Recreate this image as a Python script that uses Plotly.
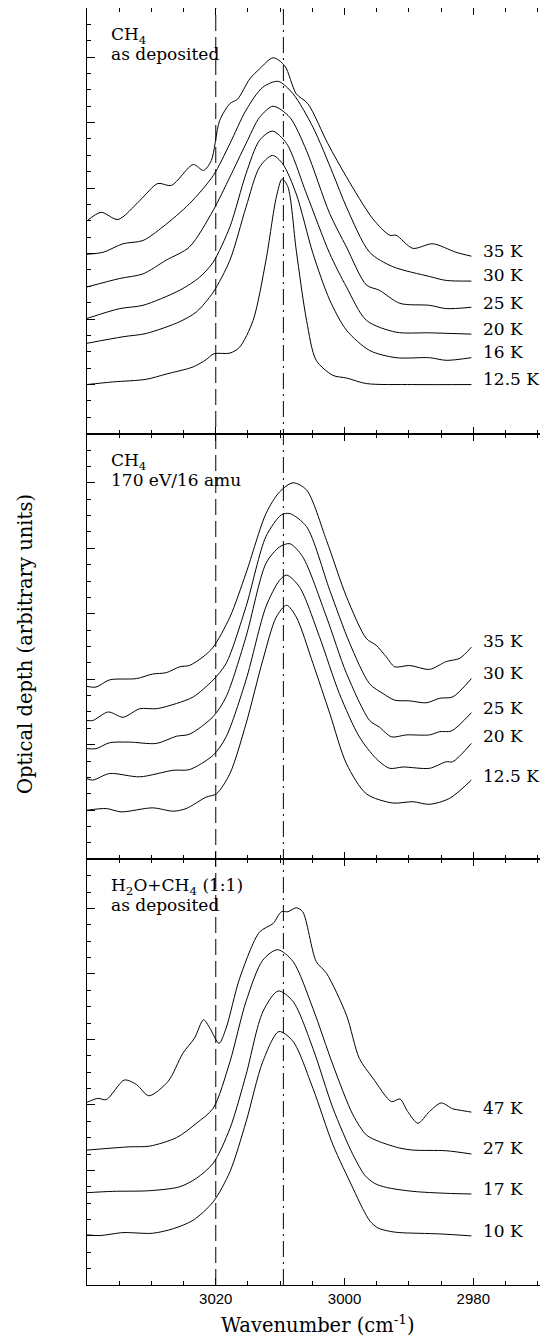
import plotly.graph_objects as go
from plotly.subplots import make_subplots

# ---------------- Panel 1: CH4 as deposited ----------------
a125_x = [3040, 3036, 3030.8, 3027.7, 3023.5, 3021.5, 3020.3, 3017.8, 3016.3, 3014.2, 3012.2, 3010.6, 3009.7, 3008.8, 3007.5, 3005.9, 3004.4, 3001.8, 2999.7, 2996.6, 2989.4, 2980.3]
a125_y = [0, 0.04, 0.08, 0.16, 0.27, 0.38, 0.47, 0.48, 0.57, 0.98, 1.9, 2.86, 3.14, 3.02, 2.05, 0.98, 0.37, 0.14, 0.10, 0.015, 0, 0]

a16_x = [3040, 3034.4, 3030.8, 3025.6, 3023, 3020.4, 3017.8, 3015.3, 3013.2, 3011.2, 3009.6, 3007.5, 3004.9, 3002.3, 2999.7, 2996.1, 2992, 2986.8, 2984.2, 2980.3]
a16_y = [0.63, 0.73, 0.78, 0.96, 1.11, 1.41, 1.90, 2.71, 3.32, 3.50, 3.37, 2.91, 2.0, 1.29, 0.83, 0.52, 0.41, 0.41, 0.37, 0.41]

a20_x = [3040, 3034.9, 3031.3, 3025.6, 3022.5, 3020.4, 3017.8, 3015.3, 3013.2, 3011.2, 3009, 3005.9, 3002.3, 2999.7, 2996.6, 2992, 2986.8, 2980.3]
a20_y = [1.01, 1.16, 1.21, 1.44, 1.64, 1.87, 2.41, 3.22, 3.73, 3.87, 3.68, 2.91, 2.0, 1.49, 0.98, 0.80, 0.79, 0.77]

a25_x = [3040, 3034.9, 3031.3, 3027.7, 3024.1, 3020.4, 3017.8, 3015.3, 3013.2, 3011.1, 3008.5, 3005.9, 3002.3, 2999.7, 2996.6, 2994.6, 2991.4, 2986.8, 2984.2, 2980.3]
a25_y = [1.49, 1.62, 1.69, 1.90, 2.10, 2.66, 3.17, 3.68, 4.08, 4.25, 4.08, 3.57, 2.61, 2.10, 1.52, 1.44, 1.24, 1.21, 1.16, 1.18]

a30_x = [3040, 3037.5, 3034.4, 3031.3, 3028.2, 3024.1, 3020.4, 3017.8, 3015.3, 3012.7, 3010.3, 3008, 3004.9, 3001.8, 2999.7, 2996.1, 2992.5, 2986.8, 2984.2, 2980.3]
a30_y = [1.99, 2.02, 2.15, 2.20, 2.41, 2.76, 3.19, 3.68, 4.19, 4.54, 4.63, 4.44, 3.93, 3.22, 2.71, 2.02, 1.80, 1.65, 1.59, 1.58]

a35_x = [3040, 3037.8, 3035.2, 3031.8, 3029, 3026.9, 3023.5, 3021.9, 3020.7, 3019.4, 3017.8, 3016.6, 3014.7, 3013.2, 3011.1, 3009.3, 3007.5, 3005.7, 3002.6, 2999.7, 2995.6, 2993, 2992, 2989.4, 2986.3, 2982.7, 2980.3]
a35_y = [2.50, 2.63, 2.52, 2.81, 3.07, 3.04, 3.36, 3.27, 3.42, 4.03, 4.29, 4.36, 4.67, 4.82, 4.99, 4.87, 4.44, 4.29, 3.68, 3.17, 2.53, 2.28, 2.28, 2.08, 2.15, 2.02, 1.96]

# ---------------- Panel 2: CH4 170 eV/16 amu ----------------
b125_x = [3040, 3037, 3034.7, 3029.8, 3026.6, 3024.6, 3021.5, 3019.9, 3017.8, 3015.3, 3012.7, 3010.6, 3009, 3007.5, 3004.9, 3002.3, 2999.7, 2996.6, 2992.5, 2989.4, 2986.8, 2983.7, 2980.3]
b125_y = [0, 0.025, -0.025, 0.036, -0.015, 0.025, 0.20, 0.25, 0.56, 1.32, 2.29, 2.95, 3.13, 2.95, 2.24, 1.48, 0.71, 0.25, 0.11, 0.13, 0.09, 0.18, 0.46]

b20_x = [3040, 3039.1, 3036.5, 3031.8, 3026.6, 3024.1, 3020.4, 3018.4, 3015.3, 3012.2, 3010.1, 3009, 3007, 3003.9, 3000.8, 2997.7, 2995.1, 2993, 2990.9, 2986.8, 2984.2, 2983.2, 2980.3]
b20_y = [0.48, 0.46, 0.56, 0.51, 0.61, 0.62, 0.84, 1.12, 1.99, 3.11, 3.51, 3.59, 3.41, 2.65, 1.78, 1.12, 0.79, 0.64, 0.66, 0.64, 0.74, 0.74, 1.02]

b25_x = [3040, 3038.6, 3036.5, 3033.4, 3029.2, 3026.1, 3024.1, 3020.4, 3018.4, 3015.3, 3012.2, 3010.1, 3008.5, 3006.5, 3002.8, 2999.7, 2996.1, 2994.6, 2992.7, 2990.4, 2986.8, 2985.2, 2983.4, 2980.3]
b25_y = [0.94, 0.94, 1.03, 1.04, 1.02, 1.13, 1.16, 1.43, 1.73, 2.65, 3.77, 4.02, 4.07, 3.87, 2.95, 2.09, 1.37, 1.27, 1.12, 1.15, 1.15, 1.20, 1.21, 1.49]

b30_x = [3040, 3039.1, 3036.7, 3034.4, 3031.8, 3029.2, 3026.1, 3023.5, 3020.4, 3018.4, 3015.3, 3012.2, 3009.8, 3008.5, 3005.9, 3002.3, 2999.2, 2996.1, 2994, 2992.2, 2989.9, 2987.3, 2985.2, 2983.2, 2980.3]
b30_y = [1.37, 1.37, 1.50, 1.42, 1.55, 1.55, 1.63, 1.73, 1.99, 2.24, 3.11, 4.18, 4.51, 4.53, 4.33, 3.36, 2.55, 1.93, 1.78, 1.68, 1.67, 1.64, 1.71, 1.73, 2.01]

b35_x = [3040, 3038.6, 3036.5, 3032.3, 3029.8, 3027.7, 3025.6, 3024.1, 3022, 3020.4, 3017.8, 3015.3, 3012.2, 3010.1, 3008, 3005.9, 3002.8, 2999.7, 2996.6, 2995.1, 2993.5, 2992.2, 2989.9, 2986.8, 2984.2, 2982.1, 2980.3]
b35_y = [1.89, 1.88, 1.99, 2.01, 2.08, 2.10, 2.19, 2.21, 2.34, 2.49, 2.95, 3.62, 4.53, 4.86, 5.0, 4.89, 4.12, 3.26, 2.62, 2.52, 2.34, 2.19, 2.21, 2.15, 2.27, 2.32, 2.49]

# ---------------- Panel 3: H2O+CH4 (1:1) as deposited ----------------
c10_x = [3040, 3038, 3034.4, 3029.8, 3026.6, 3023.5, 3020.4, 3017.8, 3015.3, 3012.7, 3010.2, 3008, 3004.9, 3001.8, 2998.7, 2997.2, 2996, 2994.8, 2993, 2991.4, 2985.2, 2980.3]
c10_y = [0.015, 0.005, 0.05, 0.04, 0.11, 0.24, 0.52, 0.98, 1.74, 2.66, 3.12, 2.97, 2.25, 1.39, 0.73, 0.42, 0.22, 0.12, 0.07, 0.05, 0.03, 0]

c17_x = [3040, 3036, 3030.3, 3025.6, 3023, 3020.4, 3017.8, 3015.3, 3012.7, 3010.3, 3008, 3004.9, 3001.8, 2998.7, 2996.8, 2995.3, 2993.5, 2989.4, 2984.2, 2980.3]
c17_y = [0.66, 0.68, 0.69, 0.75, 0.88, 1.11, 1.64, 2.46, 3.42, 3.74, 3.58, 2.86, 1.95, 1.24, 0.92, 0.80, 0.74, 0.68, 0.65, 0.64]

c27_x = [3040, 3033.4, 3030.3, 3026.1, 3023, 3020.4, 3017.8, 3015.3, 3012.7, 3010.4, 3008, 3004.9, 3001.8, 2998.7, 2996.6, 2994.6, 2991.4, 2989.4, 2984.2, 2980.3]
c27_y = [1.31, 1.36, 1.37, 1.50, 1.72, 1.95, 2.66, 3.58, 4.21, 4.37, 4.19, 3.47, 2.61, 1.85, 1.54, 1.44, 1.34, 1.31, 1.30, 1.25]

c47_x = [3040, 3038.3, 3037, 3034.2, 3032.3, 3030.4, 3027.4, 3025.1, 3023.3, 3021.9, 3020.9, 3019.5, 3018.4, 3016.3, 3013.2, 3011.1, 3009.8, 3008.8, 3007.5, 3006.5, 3004.4, 3002.8, 2999.7, 2997.7, 2995.6, 2992.7, 2991.4, 2990.2, 2988.6, 2986.8, 2985, 2983.2, 2982.1, 2980.3]
c47_y = [2.04, 2.10, 2.08, 2.38, 2.31, 2.14, 2.36, 2.79, 3.02, 3.30, 3.17, 2.94, 3.17, 3.93, 4.64, 4.77, 4.95, 4.95, 5.01, 4.95, 4.19, 4.01, 3.37, 2.71, 2.41, 2.05, 2.09, 1.90, 1.72, 1.90, 2.03, 1.94, 1.92, 1.89]

# curve labels (text, y position) per panel
labels_1 = ["35 K", "30 K", "25 K", "20 K", "16 K", "12.5 K"]
labels_1_y = [2.04, 1.67, 1.25, 0.85, 0.50, 0.08]
labels_2 = ["35 K", "30 K", "25 K", "20 K", "12.5 K"]
labels_2_y = [2.58, 2.10, 1.56, 1.13, 0.53]
labels_3 = ["47 K", "27 K", "17 K", "10 K"]
labels_3_y = [1.96, 1.34, 0.72, 0.08]
label_x = 2978.8

titles_1 = ["CH<sub>4</sub>", "as deposited"]
titles_2 = ["CH<sub>4</sub>", "170 eV/16 amu"]
titles_3 = ["H<sub>2</sub>O+CH<sub>4</sub> (1:1)", "as deposited"]
titles_y = [5.33, 5.05]
title_x = 3036.6

ref_dashed = 3020.0
ref_dashdot = 3009.5

x_major = [3020, 3000, 2980]
x_minor = [2970, 2975, 2985, 2990, 2995, 3005, 3010, 3015, 3025, 3030, 3035]

SERIF = "DejaVu Serif"
FS = 17

fig = make_subplots(rows=3, cols=1, shared_xaxes=True, vertical_spacing=0)

panels = [
    (1, [(a125_x, a125_y), (a16_x, a16_y), (a20_x, a20_y), (a25_x, a25_y), (a30_x, a30_y), (a35_x, a35_y)], labels_1, labels_1_y, titles_1),
    (2, [(b125_x, b125_y), (b20_x, b20_y), (b25_x, b25_y), (b30_x, b30_y), (b35_x, b35_y)], labels_2, labels_2_y, titles_2),
    (3, [(c10_x, c10_y), (c17_x, c17_y), (c27_x, c27_y), (c47_x, c47_y)], labels_3, labels_3_y, titles_3),
]

annotations = []
for row, curves, labs, labs_y, ttl in panels:
    for xs, ys in curves:
        fig.add_trace(go.Scatter(x=xs, y=ys, mode="lines", line=dict(color="black", width=1, shape="spline", smoothing=0.8),
                                 showlegend=False, hoverinfo="skip"), row=row, col=1)
    yref = "y" if row == 1 else f"y{row}"
    xref = "x" if row == 1 else f"x{row}"
    for t, yy in zip(labs, labs_y):
        annotations.append(dict(x=label_x, y=yy, xref=xref, yref=yref, text=t, showarrow=False,
                                xanchor="left", yanchor="middle", font=dict(family=SERIF, size=FS, color="black")))
    for t, yy in zip(ttl, titles_y):
        annotations.append(dict(x=title_x, y=yy, xref=xref, yref=yref, text=t, showarrow=False,
                                xanchor="left", yanchor="middle", font=dict(family=SERIF, size=FS, color="black")))

# figure is placed by the page at an 8px offset; plot area spans 79..540 x 0..1277 in figure coords
PLOT_W, PLOT_H = 461, 1277
annotations.append(dict(x=0.5, y=(PLOT_H - 1316) / PLOT_H, xref="paper", yref="paper", text="Wavenumber (cm<sup>-1</sup>)",
                        showarrow=False, xanchor="center", yanchor="middle",
                        font=dict(family=SERIF, size=19.5, color="black")))
annotations.append(dict(x=(17 - 79) / PLOT_W, y=(PLOT_H - 636) / PLOT_H, xref="paper", yref="paper",
                        text="Optical depth (arbitrary units)", textangle=-90, showarrow=False,
                        xanchor="center", yanchor="middle", font=dict(family=SERIF, size=19.5, color="black")))

shapes = [
    dict(type="line", xref="x", yref="paper", x0=ref_dashed, x1=ref_dashed, y0=0, y1=1,
         line=dict(color="black", width=1, dash="16px,6px")),
    dict(type="line", xref="x", yref="paper", x0=ref_dashdot, x1=ref_dashdot, y0=0, y1=1,
         line=dict(color="black", width=1, dash="16px,5px,2px,5px")),
]

for i in range(1, 4):
    fig.update_xaxes(row=i, col=1, range=[3040, 2968.4], tickvals=x_major, ticks="inside", ticklen=7,
                     tickcolor="black", showline=True, linecolor="black", linewidth=1, mirror="ticks",
                     showgrid=False, zeroline=False,
                     minor=dict(tickvals=x_minor, ticks="inside", ticklen=4, tickcolor="black", showgrid=False),
                     tickfont=dict(family="Liberation Sans", size=15, color="black"))
    fig.update_yaxes(row=i, col=1, range=[-0.75, 5.75], tickvals=[0, 1, 2, 3, 4, 5], ticks="inside", ticklen=8,
                     tickcolor="black", showline=True, linecolor="black", linewidth=1, mirror="ticks",
                     showgrid=False, zeroline=False, showticklabels=False,
                     minor=dict(dtick=0.25, tick0=0, ticks="inside", ticklen=4, tickcolor="black", showgrid=False))

fig.update_layout(width=540, height=1332, margin=dict(l=79, r=0, t=0, b=55),
                  plot_bgcolor="white", paper_bgcolor="white",
                  annotations=annotations, shapes=shapes)

fig.write_html("out.html")
